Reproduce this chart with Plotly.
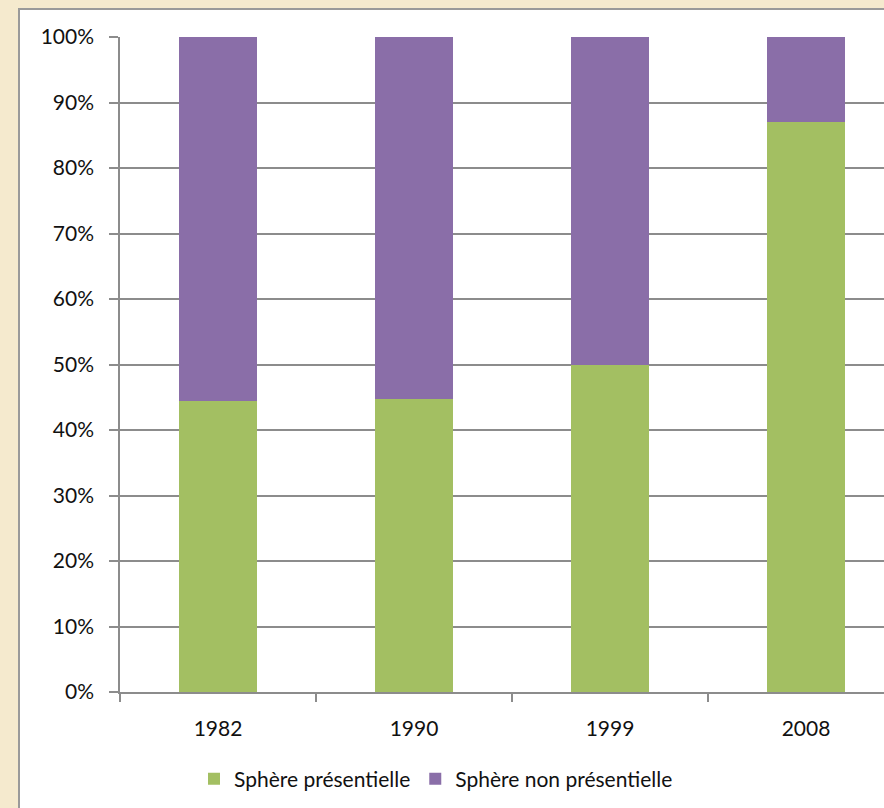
import plotly.graph_objects as go

years = ["1982", "1990", "1999", "2008"]
presentielle = [44.4, 44.7, 50.0, 87.0]
non_presentielle = [55.6, 55.3, 50.0, 13.0]
y_ticks = [0, 10, 20, 30, 40, 50, 60, 70, 80, 90, 100]

W, H = 884, 808
BEIGE = "#F5EACE"
font = "Lato, 'Open Sans', sans-serif"

def px_x(x):
    return x / W

def px_y(y):
    return (H - y) / H

fig = go.Figure()
fig.add_trace(go.Bar(x=years, y=presentielle, name="Sphère présentielle",
                     marker=dict(color="#A3BF62", line=dict(width=0))))
fig.add_trace(go.Bar(x=years, y=non_presentielle, name="Sphère non présentielle",
                     marker=dict(color="#8A6EA8", line=dict(width=0))))

fig.update_layout(
    width=W, height=H,
    barmode="stack", bargap=0.6,
    margin=dict(l=0, r=0, t=0, b=0, autoexpand=False),
    paper_bgcolor=BEIGE, plot_bgcolor="#FFFFFF",
    font=dict(family=font, size=21, color="#111111"),
    shapes=[dict(type="rect", xref="paper", yref="paper", layer="below",
                 x0=px_x(19), x1=1.02, y0=-0.02, y1=px_y(9),
                 fillcolor="#FFFFFF", line=dict(color="#9A9A9A", width=2))],
    xaxis=dict(domain=[px_x(120), 1.0], range=[-0.5, 3.398], type="category",
               automargin=False,
               showgrid=False, showline=True, linecolor="#8C8C8C", linewidth=1.5,
               ticks="outside", tickson="boundaries", ticklen=8, tickcolor="#8C8C8C",
               tickwidth=1.5, ticklabelstandoff=17),
    yaxis=dict(domain=[px_y(692), px_y(37)], range=[0, 100], automargin=False,
               tickvals=y_ticks, ticktext=[f"{v}%" for v in y_ticks],
               showgrid=True, gridcolor="#8C8C8C", gridwidth=1.5,
               showline=True, linecolor="#8C8C8C", linewidth=1.5,
               ticks="outside", ticklen=9, tickcolor="#8C8C8C", tickwidth=1.5,
               ticklabelstandoff=11, zeroline=False),
    legend=dict(orientation="h", x=px_x(436), xanchor="center",
                y=px_y(779), yanchor="middle",
                bgcolor="rgba(0,0,0,0)", font=dict(size=21),
                traceorder="normal"),
    showlegend=True,
)

fig.write_html("out.html",
               config={"displayModeBar": False},
               post_script=f"document.body.style.margin='0';"
                           f"document.body.style.background='{BEIGE}';"
                           f"document.body.style.overflow='hidden';")
